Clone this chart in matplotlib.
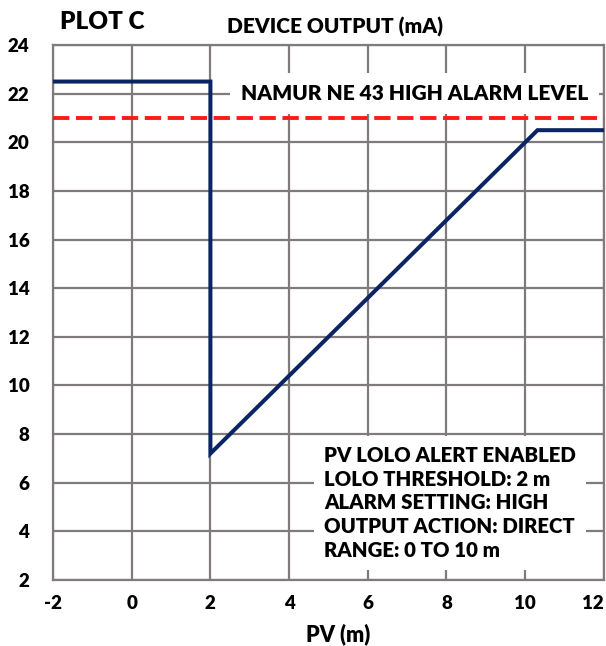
import matplotlib
matplotlib.use("Agg")
import matplotlib.pyplot as plt

# device output curve (PV in m, output in mA)
pv = [-2, 2, 2, 10.3125, 12.5]
output_ma = [22.5, 22.5, 7.2, 20.5, 20.5]
namur_high = 21.0

x_ticks = [-2, 0, 2, 4, 6, 8, 10, 12]
y_ticks = [2, 4, 6, 8, 10, 12, 14, 16, 18, 20, 22, 24]

info_lines = [
    "PV LOLO ALERT ENABLED",
    "LOLO THRESHOLD: 2 m",
    "ALARM SETTING: HIGH",
    "OUTPUT ACTION: DIRECT",
    "RANGE: 0 TO 10 m",
]

W = 800  # Lato heavy, closest to the reference's bold face
plt.rcParams['font.family'] = ['Lato', 'DejaVu Sans']
plt.rcParams['font.weight'] = W
plt.rcParams['axes.unicode_minus'] = False

grid_col = '#7f7b7a'
navy = '#0b2463'

fig = plt.figure(figsize=(6.06, 6.46), dpi=100)
ax = fig.add_axes([0.0875, 0.1022, 0.909, 0.828])

ax.set_xlim(-2, 12)
ax.set_ylim(2, 24)
ax.set_xticks(x_ticks)
ax.set_yticks(y_ticks)
ax.grid(True, color=grid_col, linewidth=1.6, zorder=0)
ax.set_axisbelow(True)
for s in ax.spines.values():
    s.set_color(grid_col)
    s.set_linewidth(1.6)
ax.tick_params(length=0, labelsize=13.5)
ax.tick_params(axis='y', pad=17)
ax.tick_params(axis='x', pad=11)
labels = ax.get_xticklabels()
labels[-1].set_horizontalalignment('right')
for lab in ax.get_xticklabels() + ax.get_yticklabels():
    lab.set_fontweight(W)

ax.axhline(namur_high, color='#ff1a1a', linewidth=2.8, linestyle=(0, (4.2, 1.7)), zorder=3)
ax.plot(pv, output_ma, color=navy, linewidth=2.9, zorder=4, clip_on=True,
        solid_joinstyle='miter')

ax.text(2.77, 22.0, "NAMUR NE 43 HIGH ALARM LEVEL", fontsize=15, fontweight=W,
        va='center', ha='left', zorder=5,
        bbox=dict(facecolor='white', edgecolor='none', pad=8))
ax.text(4.89, 5.17, "\n".join(info_lines), fontsize=14.7, fontweight=W,
        va='center', ha='left', linespacing=1.3, zorder=5,
        bbox=dict(facecolor='white', edgecolor='none', pad=7))

fig.text(60 / 606, 1 - 22 / 646, "PLOT C", fontsize=17.5, fontweight=W,
         ha='left', va='center')
fig.text(335 / 606, 1 - 27 / 646, "DEVICE OUTPUT (mA)", fontsize=15, fontweight=W,
         ha='center', va='center')
fig.text(338 / 606, 1 - 634 / 646, "PV (m)", fontsize=15.5, fontweight=W,
         ha='center', va='center')

fig.savefig("out.png", dpi=100)
